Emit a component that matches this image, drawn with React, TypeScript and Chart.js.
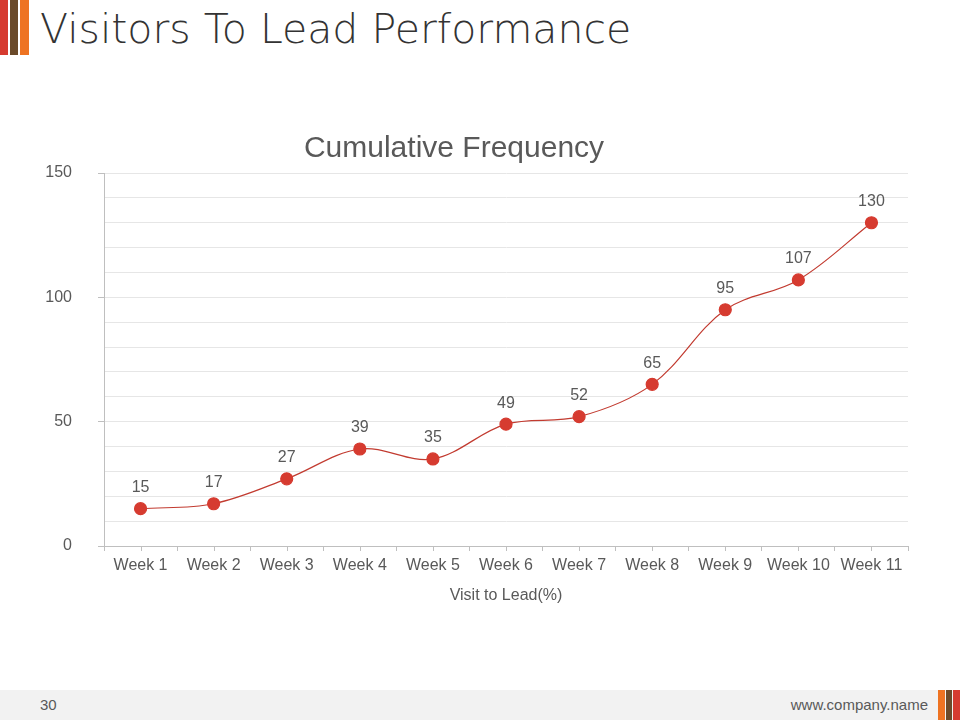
import React, { useEffect, useRef } from "react";
import { Chart, registerables } from "chart.js";

Chart.register(...registerables);

const categories = ["Week 1", "Week 2", "Week 3", "Week 4", "Week 5", "Week 6", "Week 7", "Week 8", "Week 9", "Week 10", "Week 11"];
const values = [15, 17, 27, 39, 35, 49, 52, 65, 95, 107, 130];
const yTickLabels = [0, 50, 100, 150];

const TEXT = "#595959";
const FONT = "'Liberation Sans', Arial, sans-serif";

const labelPlugin = {
  id: "valueLabels",
  afterDatasetsDraw(chart: any) {
    const ctx = chart.ctx;
    const meta = chart.getDatasetMeta(0);
    ctx.save();
    ctx.font = "16px " + FONT;
    ctx.fillStyle = TEXT;
    ctx.textAlign = "center";
    ctx.textBaseline = "middle";
    meta.data.forEach((pt: any, i: number) => {
      ctx.fillText(String(values[i]), pt.x, pt.y - 21);
    });
    ctx.restore();
  },
};

const centerTicksPlugin = {
  id: "centerTicks",
  afterDraw(chart: any) {
    const sx = chart.scales.x;
    const ctx = chart.ctx;
    ctx.save();
    ctx.strokeStyle = "#bfbfbf";
    ctx.lineWidth = 1;
    categories.forEach((_, i) => {
      const x = Math.round(sx.getPixelForValue(i)) + 0.5;
      ctx.beginPath();
      ctx.moveTo(x, sx.top);
      ctx.lineTo(x, sx.top + 5);
      ctx.stroke();
    });
    ctx.restore();
  },
};

export default function App() {
  const ref = useRef<HTMLCanvasElement | null>(null);

  useEffect(() => {
    document.body.style.margin = "0";
    if (!ref.current) return;
    const chart = new Chart(ref.current, {
      type: "line",
      data: {
        labels: categories,
        datasets: [
          {
            data: values,
            borderColor: "#c23b30",
            borderWidth: 1.2,
            backgroundColor: "#d63b30",
            pointBackgroundColor: "#d63b30",
            pointBorderColor: "#d63b30",
            pointRadius: 6,
            tension: 0.35,
            fill: false,
          },
        ],
      },
      options: {
        animation: false,
        responsive: false,
        maintainAspectRatio: false,
        layout: { padding: { left: 0, right: 52, top: 0, bottom: 0 } },
        plugins: {
          legend: { display: false },
          tooltip: { enabled: false },
          title: {
            display: true,
            text: "Cumulative Frequency",
            color: TEXT,
            font: { family: FONT, size: 30, weight: "normal", lineHeight: 1.2 },
            padding: { top: 21, bottom: 6 },
          },
        },
        scales: {
          x: {
            type: "category",
            offset: true,
            grid: {
              offset: true,
              drawOnChartArea: false,
              color: "#bfbfbf",
              tickColor: "#bfbfbf",
              tickLength: 5,
            },
            border: { color: "#bfbfbf" },
            ticks: {
              color: TEXT,
              font: { family: FONT, size: 16 },
              padding: 5,
              maxRotation: 0,
              autoSkip: false,
            },
            title: {
              display: true,
              text: "Visit to Lead(%)",
              color: TEXT,
              font: { family: FONT, size: 16 },
              padding: { top: 4, bottom: 15 },
            },
            afterFit(scale: any) {
              scale.height = 74;
            },
          },
          y: {
            min: 0,
            max: 150,
            ticks: {
              stepSize: 10,
              autoSkip: false,
              color: TEXT,
              font: { family: FONT, size: 16 },
              padding: 26,
              callback: (v: any) => (yTickLabels.includes(Number(v)) ? String(v) : ""),
            },
            grid: {
              color: "#e6e6e6",
              tickLength: 6,
              tickColor: (c: any) => (c.tick && yTickLabels.includes(Number(c.tick.value)) ? "#bfbfbf" : "rgba(0,0,0,0)"),
            },
            border: { color: "#bfbfbf" },
            afterFit(scale: any) {
              scale.width = 104;
            },
          },
        },
      },
      plugins: [labelPlugin, centerTicksPlugin],
    });
    return () => chart.destroy();
  }, []);

  const bar = (left: number, top: number, w: number, h: number, color: string) => (
    <div style={{ position: "absolute", left, top, width: w, height: h, background: color }} />
  );

  return (
    <div style={{ position: "absolute", left: 0, top: 0, width: 960, height: 720, background: "#fff", overflow: "hidden" }}>
      {bar(0, 0, 8, 55, "#d63b30")}
      {bar(10, 0, 8, 55, "#6b4a2a")}
      {bar(20, 0, 9, 55, "#ee7322")}
      <div
        style={{
          position: "absolute",
          left: 40,
          top: 0,
          fontFamily: "'DejaVu Sans', sans-serif",
          fontWeight: 200,
          fontSize: 41,
          lineHeight: "58px",
          color: "#333333",
          whiteSpace: "nowrap",
        }}
      >
        Visitors To Lead Performance
      </div>
      <canvas ref={ref} width={960} height={510} style={{ position: "absolute", left: 0, top: 110, width: 960, height: 510 }} />
      <div style={{ position: "absolute", left: 0, top: 690, width: 960, height: 30, background: "#f2f2f2" }} />
      <div
        style={{
          position: "absolute",
          left: 40,
          top: 690,
          lineHeight: "30px",
          fontSize: 15,
          color: TEXT,
          fontFamily: "'Liberation Sans Narrow', 'Liberation Sans', sans-serif",
        }}
      >
        30
      </div>
      <div
        style={{
          position: "absolute",
          right: 32,
          top: 690,
          lineHeight: "30px",
          fontSize: 15,
          color: TEXT,
          fontFamily: "'Liberation Sans Narrow', 'Liberation Sans', sans-serif",
        }}
      >
        www.company.name
      </div>
      {bar(938, 690, 7, 30, "#ee7322")}
      {bar(946, 690, 6, 30, "#6b4a2a")}
      {bar(953, 690, 7, 30, "#d63b30")}
    </div>
  );
}
